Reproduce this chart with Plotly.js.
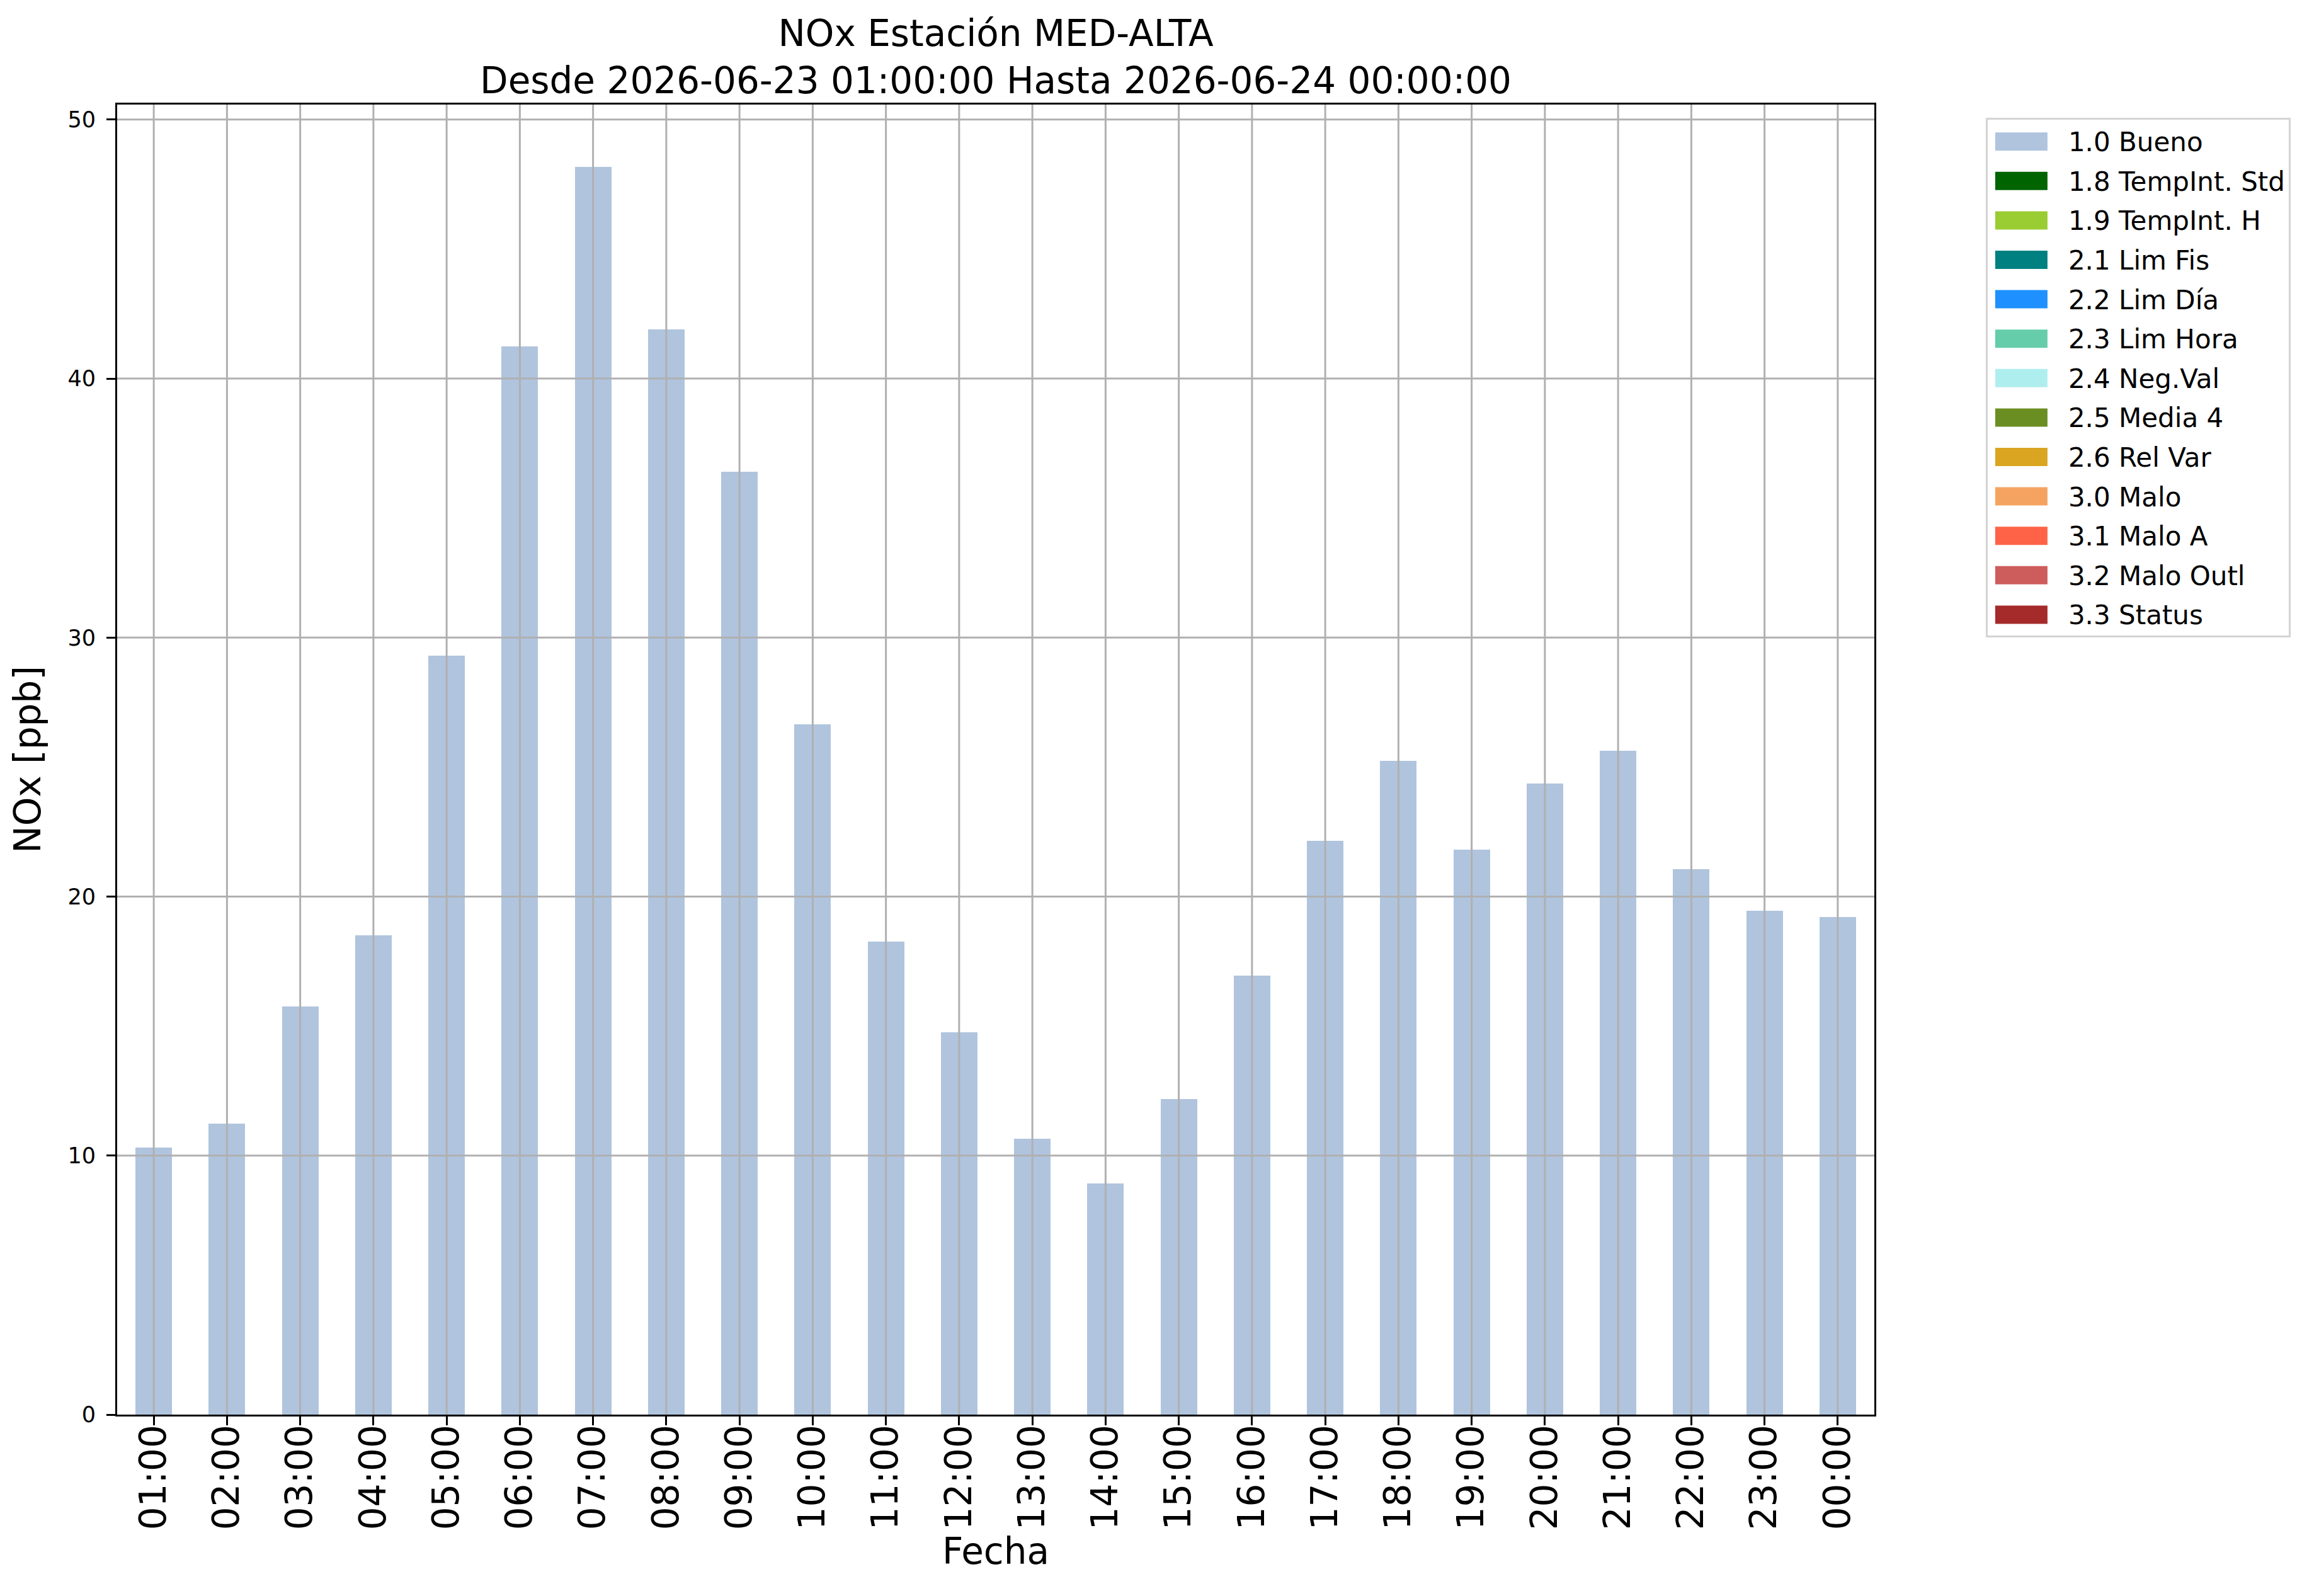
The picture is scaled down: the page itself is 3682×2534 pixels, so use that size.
<!DOCTYPE html>
<html>
<head>
<meta charset="utf-8">
<script src="https://cdn.plot.ly/plotly-3.0.1.min.js"></script>
<style>
  body { margin: 0; background: #fff; }
</style>
</head>
<body>
<div id="chart"></div>
<script>
const hours = ['01:00', '02:00', '03:00', '04:00', '05:00', '06:00', '07:00', '08:00',
  '09:00', '10:00', '11:00', '12:00', '13:00', '14:00', '15:00', '16:00',
  '17:00', '18:00', '19:00', '20:00', '21:00', '22:00', '23:00', '00:00'];

// NOx [ppb], flag 1.0 (Bueno); every other flag is empty for this day
const bueno = [10.31, 11.23, 15.76, 18.50, 29.30, 41.24, 48.18, 41.90,
  36.40, 26.66, 18.27, 14.76, 10.65, 8.93, 12.18, 16.95,
  22.16, 25.23, 21.82, 24.37, 25.64, 21.06, 19.46, 19.22];

const flagNames = ['1.0 Bueno', '1.8 TempInt. Std', '1.9 TempInt. H', '2.1 Lim Fis',
  '2.2 Lim Día', '2.3 Lim Hora', '2.4 Neg.Val', '2.5 Media 4', '2.6 Rel Var',
  '3.0 Malo', '3.1 Malo A', '3.2 Malo Outl', '3.3 Status'];
const flagColors = ['#b0c4de', '#006400', '#9acd32', '#008080', '#1e90ff', '#66cdaa',
  '#afeeee', '#6b8e23', '#daa520', '#f4a460', '#ff6347', '#cd5c5c', '#a52a2a'];

const yTicks = [0, 10, 20, 30, 40, 50];

const font = 'DejaVu Sans, sans-serif';
const gridColor = '#b0b0b0';

const traces = flagNames.map(function (name, i) {
  return {
    type: 'bar',
    name: name,
    legendgroup: name,
    x: hours,
    y: i === 0 ? bueno : hours.map(function () { return null; }),
    marker: { color: flagColors[i], line: { width: 0 } },
    hoverinfo: 'skip'
  };
});

// matplotlib draws its grid over the bars, so the grid is done with shapes
const shapes = [];
hours.forEach(function (h) {
  shapes.push({
    type: 'line', layer: 'above', xref: 'x', yref: 'paper',
    x0: h, x1: h, y0: 0, y1: 1,
    line: { color: gridColor, width: 3 }
  });
});
yTicks.slice(1).forEach(function (v) {
  shapes.push({
    type: 'line', layer: 'above', xref: 'paper', yref: 'y',
    x0: 0, x1: 1, y0: v, y1: v,
    line: { color: gridColor, width: 3 }
  });
});

const layout = {
  width: 3682,
  height: 2534,
  paper_bgcolor: '#fff',
  plot_bgcolor: '#fff',
  font: { family: font, color: '#000' },
  margin: { l: 186, r: 706, t: 166, b: 288, pad: 0 },
  barmode: 'stack',
  bargap: 0.5,
  title: {
    text: 'NOx Estación MED-ALTA<br>Desde 2026-06-23 01:00:00 Hasta 2026-06-24 00:00:00',
    font: { family: font, size: 58, color: '#000' },
    xref: 'paper', x: 0.5, xanchor: 'center',
    yref: 'paper', y: 1, yanchor: 'bottom',
    pad: { b: 93 }
  },
  xaxis: {
    type: 'category',
    range: [-0.5, 23.5],
    tickangle: -90,
    tickfont: { family: font, size: 58 },
    ticks: 'outside', ticklen: 14, tickwidth: 3, tickcolor: '#000',
    ticklabelstandoff: -24,
    showgrid: false, zeroline: false,
    showline: true, mirror: true, linecolor: '#000', linewidth: 3,
    title: { text: 'Fecha', font: { family: font, size: 58 }, standoff: 12 },
    automargin: false
  },
  yaxis: {
    range: [0, 50.58],
    tickvals: yTicks,
    tickfont: { family: font, size: 35 },
    ticks: 'outside', ticklen: 14, tickwidth: 3, tickcolor: '#000',
    ticklabelstandoff: 10,
    showgrid: false, zeroline: false,
    showline: true, mirror: true, linecolor: '#000', linewidth: 3,
    title: { text: 'NOx [ppb]', font: { family: font, size: 58 }, standoff: 25 },
    automargin: false
  },
  showlegend: true,
  legend: {
    x: 1.0634, xanchor: 'left',
    y: 0.9899, yanchor: 'top',
    bgcolor: '#fff',
    bordercolor: '#d4d4d4',
    borderwidth: 3,
    font: { family: font, size: 42, color: '#000' },
    itemwidth: 118,
    tracegroupgap: 5,
    traceorder: 'grouped'
  },
  shapes: shapes
};

Plotly.newPlot('chart', traces, layout, { staticPlot: true }).then(function (gd) {
  // wide, flat legend swatches like matplotlib instead of Plotly's small squares
  gd.querySelectorAll('.legend .traces').forEach(function (item) {
    const path = item.querySelector('.legendpoints path');
    const text = item.querySelector('.legendtext');
    if (!path || !text) return;
    path.setAttribute('d', 'M-41.5,-14.5H41.5V14.5H-41.5Z');
    const tb = text.getBoundingClientRect();
    const pb = path.getBoundingClientRect();
    const dx = (tb.left - 116) - pb.left;
    const dy = (tb.top + tb.height / 2 - 1) - (pb.top + pb.height / 2);
    const old = path.getAttribute('transform') || '';
    path.setAttribute('transform', old + ' translate(' + dx + ',' + dy + ')');
  });
});
</script>
</body>
</html>
